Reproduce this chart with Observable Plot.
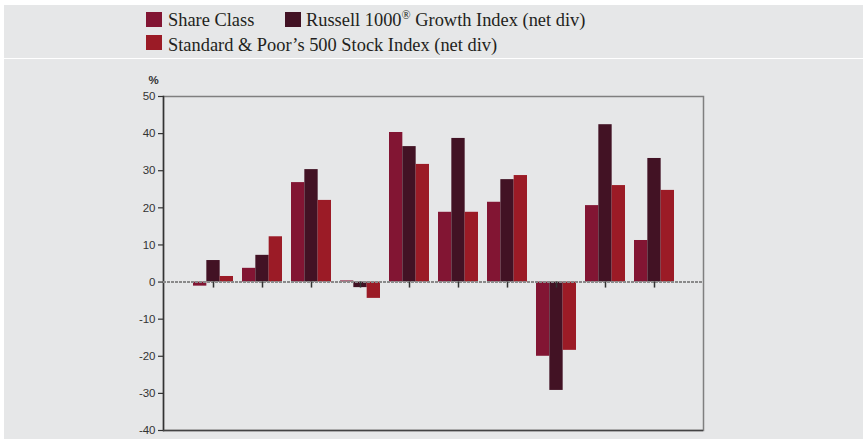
<!DOCTYPE html>
<html><head><meta charset="utf-8">
<script src="https://cdn.jsdelivr.net/npm/d3@7"></script>
<script src="https://cdn.jsdelivr.net/npm/@observablehq/plot@0.6"></script>
<style>
body{margin:0;background:#fff;width:863px;height:439px;position:relative;overflow:hidden;font-family:"Liberation Serif","Times New Roman",serif;}
#legend{position:absolute;left:4px;top:5px;width:859px;height:53px;background:#e6e7e8;}
.item{position:absolute;font-size:18.4px;color:#231f20;white-space:nowrap;line-height:18px}
.item sup{font-size:12px;line-height:0;vertical-align:7px}
.sw{position:absolute;width:16px;height:15px}
#chart{position:absolute;left:4px;top:59px;width:859px;height:380px;background:#e6e7e8}
#chart svg{display:block}
</style></head>
<body>
<div id="legend"></div>
<div id="chart"></div>
<script>
// ---- data ----
const years = ["2015","2016","2017","2018","2019","2020","2021","2022","2023","2024"];
const seriesNames = ["Share Class", "Russell 1000<sup>®</sup> Growth Index (net div)", "Standard &amp; Poor’s 500 Stock Index (net div)"];
const shareClass = [-1.1, 3.7, 26.8, 0.3, 40.3, 18.8, 21.5, -20.0, 20.6, 11.2];
const russell1000G = [5.8, 7.2, 30.3, -1.5, 36.5, 38.7, 27.6, -29.2, 42.4, 33.3];
const sp500 = [1.5, 12.2, 22.0, -4.4, 31.7, 18.8, 28.7, -18.4, 26.0, 24.7];
const yTicks = [-40, -30, -20, -10, 0, 10, 20, 30, 40, 50];
const colors = ["#821533", "#421224", "#9b1b26"];

// ---- legend ----
const legendPos = [
  {sw: [142, 7], tx: [164, 6]},
  {sw: [281, 7], tx: [302, 6]},
  {sw: [142, 30], tx: [164, 31]}
];
const legend = document.getElementById("legend");
seriesNames.forEach((name, i) => {
  const sw = document.createElement("div");
  sw.className = "sw";
  sw.style.left = legendPos[i].sw[0] + "px";
  sw.style.top = legendPos[i].sw[1] + "px";
  sw.style.background = colors[i];
  legend.appendChild(sw);
  const t = document.createElement("div");
  t.className = "item";
  t.style.left = legendPos[i].tx[0] + "px";
  t.style.top = legendPos[i].tx[1] + "px";
  t.innerHTML = name;
  legend.appendChild(t);
});

// ---- chart ----
const allSeries = [shareClass, russell1000G, sp500];
const bandwidth = 40;
const third = bandwidth / 3;
const barMarks = allSeries.map((vals, k) =>
  Plot.barY(years.map((y, i) => ({year: y, value: vals[i]})), {
    x: "year", y1: 0, y2: "value", fill: colors[k],
    insetLeft: k * third, insetRight: (2 - k) * third
  })
);

const chart = Plot.plot({
  width: 859, height: 380,
  marginTop: 37, marginBottom: 9, marginLeft: 159, marginRight: 160,
  style: {background: "transparent", fontFamily: "'Liberation Sans', Arial, sans-serif", fontSize: "11.5px", color: "#333"},
  x: {domain: years, paddingInner: 0.185, paddingOuter: 0.5925, axis: null},
  y: {domain: [-40, 50], axis: null},
  marks: [
    Plot.frame({stroke: "#7f7f7f", strokeWidth: 1.5}),
    Plot.frame({anchor: "left", stroke: "#333", strokeWidth: 1.5}),
    Plot.ruleY([-40], {stroke: "#444", strokeWidth: 1.5}),
    ...barMarks,
    Plot.ruleY([0], {stroke: "#8a8a8a", strokeWidth: 2, strokeDasharray: "3,1"}),
    Plot.ruleX(years, {y1: 0, y2: 0, insetBottom: -6, stroke: "#333", strokeWidth: 1.5}),
    Plot.axisY(yTicks, {label: null, tickSize: 5, tickPadding: 3, fontSize: 11.5, stroke: "#333", strokeWidth: 1.2, tickFormat: d => String(d)}),
    Plot.text(["%"], {frameAnchor: "top-left", dx: -15, dy: -21, fontWeight: "bold", fontSize: 11.5, fill: "#333"})
  ]
});
document.getElementById("chart").appendChild(chart);
</script>
</body></html>
